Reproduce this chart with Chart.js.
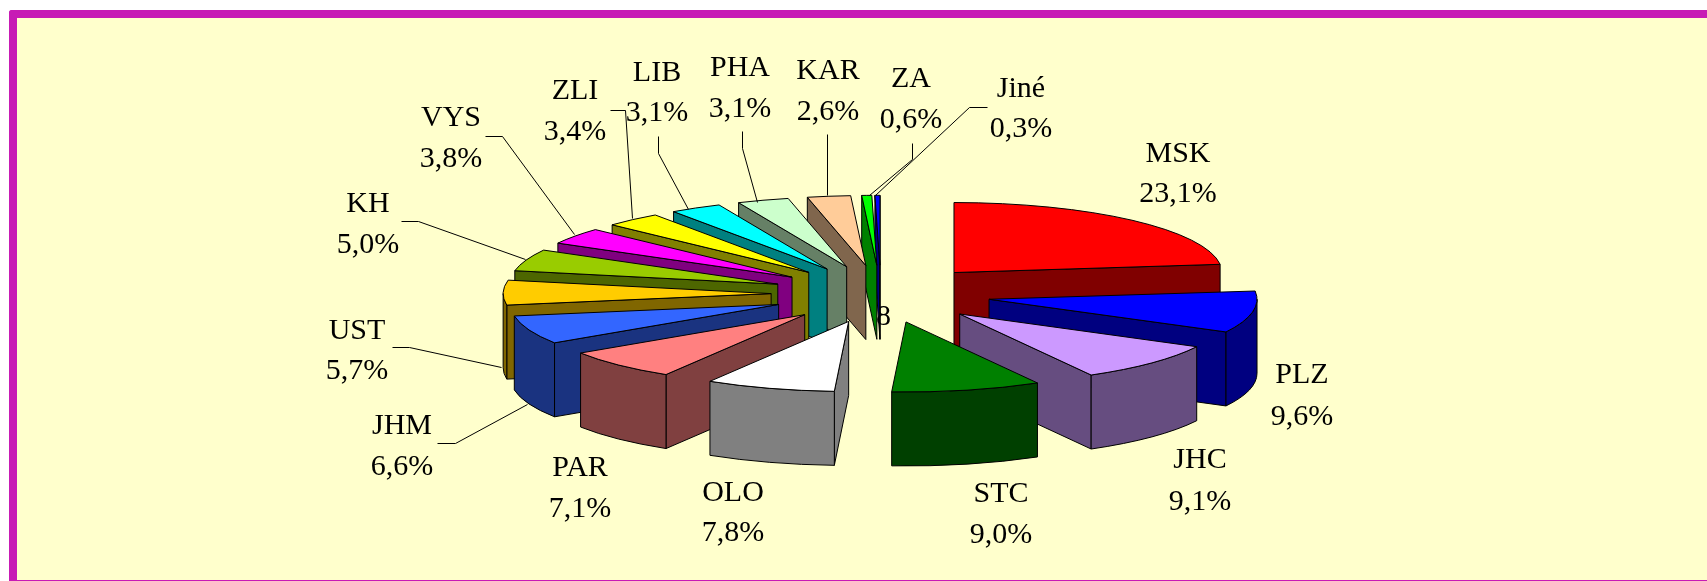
<!DOCTYPE html>
<html>
<head>
<meta charset="utf-8">
<title>Kraje</title>
<script src="https://cdn.jsdelivr.net/npm/chart.js@4"></script>
<style>
    html, body { margin: 0; padding: 0; background: #fff; overflow: hidden; }
    #ramec {
        position: absolute; left: 9px; top: 10px; width: 1690px; height: 562px;
        background: #ffffcc; border: solid #c71bb5; border-width: 8px 0 1px 8px;
        border-top-left-radius: 3px;
    }
    canvas { position: absolute; left: 0; top: 0; }
</style>
</head>
<body>
<div id="ramec"></div>
<canvas id="graf" width="1707" height="581"></canvas>
<script>
const kraje = ["MSK", "PLZ", "JHC", "STC", "OLO", "PAR", "JHM", "UST", "KH", "VYS", "ZLI", "LIB", "PHA", "KAR", "ZA", "Jiné"];
const podily = [23.1, 9.6, 9.1, 9.0, 7.8, 7.1, 6.6, 5.7, 5.0, 3.8, 3.4, 3.1, 3.1, 2.6, 0.6, 0.3];
const barvy = ["#ff0000", "#0000ff", "#cc99ff", "#008000", "#ffffff", "#ff8080", "#3366ff", "#ffcc00",
    "#99cc00", "#ff00ff", "#ffff00", "#00ffff", "#ccffcc", "#ffcc99", "#00ff00", "#0000ff"];
const barvyBoku = ["#800000", "#000080", "#664d80", "#004000", "#808080", "#804040", "#1a3380", "#806600",
    "#4d6600", "#800080", "#808000", "#008080", "#668066", "#80664d", "#008000", "#000080"];

// stred kazdeho popisku: x, y prvniho radku, y druheho radku
const popisky = [
    [1178, 152, 192], [1302, 373, 415], [1200, 458, 500], [1001, 492, 533],
    [733, 491, 531], [580, 466, 507], [402, 424, 465], [357, 329, 369],
    [368, 202, 243], [451, 116, 157], [575, 89, 130], [657, 71, 111],
    [740, 66, 107], [828, 69, 110], [911, 77, 118], [1021, 87, 127]
];
// odkazove cary
const cary = [
    [[485, 136], [502, 136], [574, 234]],
    [[610, 110], [625, 110], [632, 218]],
    [[658, 136], [658, 153], [688, 209]],
    [[742, 131], [742, 148], [757, 202]],
    [[827, 134], [827, 195]],
    [[401, 221], [418, 221], [525, 259]],
    [[392, 347], [409, 347], [501, 367]],
    [[437, 443], [455, 443], [527, 404]],
    [[912, 143], [912, 159], [869, 195]],
    [[987, 107], [969, 107], [875, 195]]
];

const naklon = 70 / 268;
const hloubka = 74;
const vysunuti = 0.41;

function bok(ctx, ax, ay, R, uhel, barva) {
    const ox = ax + R * Math.cos(uhel);
    const oy = ay + R * naklon * Math.sin(uhel);
    ctx.beginPath();
    ctx.moveTo(ax, ay);
    ctx.lineTo(ox, oy);
    ctx.lineTo(ox, oy + hloubka);
    ctx.lineTo(ax, ay + hloubka);
    ctx.closePath();
    ctx.fillStyle = barva;
    ctx.fill();
    ctx.stroke();
}

const pie3d = {
    id: "pie3d",
    beforeDatasetsDraw(chart) {
        const ctx = chart.ctx;
        const meta = chart.getDatasetMeta(0);
        ctx.save();
        ctx.font = "30px 'Liberation Serif'";
        ctx.fillStyle = "#000";
        ctx.textAlign = "left";
        ctx.fillText("8", 876, 325);

        ctx.strokeStyle = "#000";
        ctx.lineWidth = 1;
        ctx.lineJoin = "round";

        // od zadnich dilku k prednim
        const poradi = meta.data.map((arc, i) => i).sort((a, b) => {
            const sa = (meta.data[a].startAngle + meta.data[a].endAngle) / 2;
            const sb = (meta.data[b].startAngle + meta.data[b].endAngle) / 2;
            return Math.sin(sa) - Math.sin(sb);
        });

        poradi.forEach(i => {
            const arc = meta.data[i];
            const R = arc.outerRadius;
            const zac = arc.startAngle;
            const kon = arc.endAngle;
            const stred = (zac + kon) / 2;
            const ax = arc.x + vysunuti * R * Math.cos(stred);
            const ay = arc.y + vysunuti * R * naklon * Math.sin(stred);

            // viditelne rezy
            if (Math.cos(zac) < 0) bok(ctx, ax, ay, R, zac, barvyBoku[i]);
            if (Math.cos(kon) > 0) bok(ctx, ax, ay, R, kon, barvyBoku[i]);

            // vnejsi plast, jen predni polovina
            const od = Math.max(zac, 0);
            const po = Math.min(kon, Math.PI);
            if (po > od) {
                ctx.beginPath();
                ctx.ellipse(ax, ay, R, R * naklon, 0, od, po);
                ctx.ellipse(ax, ay + hloubka, R, R * naklon, 0, po, od, true);
                ctx.closePath();
                ctx.fillStyle = barvyBoku[i];
                ctx.fill();
                ctx.stroke();
            }

            // vrchni plocha
            ctx.beginPath();
            ctx.moveTo(ax, ay);
            ctx.ellipse(ax, ay, R, R * naklon, 0, zac, kon);
            ctx.closePath();
            ctx.fillStyle = barvy[i];
            ctx.fill();
            ctx.stroke();
        });
        ctx.restore();
        return false;
    },
    afterDraw(chart) {
        const ctx = chart.ctx;
        ctx.save();
        ctx.strokeStyle = "#000";
        ctx.lineWidth = 1;
        cary.forEach(c => {
            ctx.beginPath();
            c.forEach((b, i) => {
                if (i === 0) ctx.moveTo(b[0] + 0.5, b[1] + 0.5);
                else ctx.lineTo(b[0] + 0.5, b[1] + 0.5);
            });
            ctx.stroke();
        });
        ctx.font = "30px 'Liberation Serif'";
        ctx.fillStyle = "#000";
        ctx.textAlign = "center";
        ctx.textBaseline = "alphabetic";
        kraje.forEach((kraj, i) => {
            const p = popisky[i];
            ctx.fillText(kraj, p[0], p[1] + 10);
            ctx.fillText(podily[i].toFixed(1).replace(".", ",") + "%", p[0], p[2] + 10);
        });
        ctx.restore();
    }
};

window.addEventListener("load", () => {
    const ctx = document.getElementById("graf").getContext("2d");
    new Chart(ctx, {
        type: "pie",
        data: {
            labels: kraje,
            datasets: [{
                data: podily,
                backgroundColor: barvy,
                borderColor: "#000",
                borderWidth: 1,
                radius: 268
            }]
        },
        options: {
            responsive: false,
            animation: false,
            // stred kolace vychazi na 881, 294
            layout: { padding: { left: 55, top: 7 } },
            plugins: { legend: { display: false }, tooltip: { enabled: false } }
        },
        plugins: [pie3d]
    });
});
</script>
</body>
</html>
